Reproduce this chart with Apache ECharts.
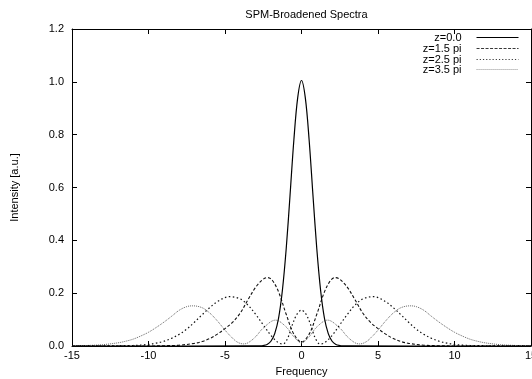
<!DOCTYPE html>
<html>
<head>
<meta charset="utf-8">
<script src="https://cdn.jsdelivr.net/npm/echarts@6/dist/echarts.min.js"></script>
<style>html,body{margin:0;padding:0;background:#fff;}#c{width:532px;height:379px;}</style>
</head>
<body>
<div id="c"></div>
<script>
var xTicks = [-15, -10, -5, 0, 5, 10, 15];
var yTicks = [0.0, 0.2, 0.4, 0.6, 0.8, 1.0, 1.2];
var seriesNames = ['z=0.0', 'z=1.5 pi', 'z=2.5 pi', 'z=3.5 pi'];

var x0 = [-15, -3, -2.75, -2.5, -2.25, -2, -1.75, -1.5, -1.25, -1, -0.75, -0.5, -0.25, 0, 0.25, 0.5, 0.75, 1, 1.25, 1.5, 1.75, 2, 2.25, 2.5, 2.75, 3, 15];
var y0 = [0, 0.0001, 0.0005, 0.002, 0.006, 0.018, 0.047, 0.105, 0.210, 0.368, 0.570, 0.779, 0.939, 1.005, 0.939, 0.779, 0.570, 0.368, 0.210, 0.105, 0.047, 0.018, 0.006, 0.002, 0.0005, 0.0001, 0];

var x15 = [-15, -10, -9, -8, -7, -6.5, -6, -5.5, -5, -4.5, -4, -3.5, -3, -2.5, -2.2, -1.9, -1.5, -1, -0.5, 0, 0.5, 1, 1.5, 1.9, 2.2, 2.5, 3, 3.5, 4, 4.5, 5, 5.5, 6, 6.5, 7, 8, 9, 10, 15];
var y15 = [0, 0, 0.001, 0.003, 0.010, 0.017, 0.028, 0.045, 0.066, 0.090, 0.125, 0.175, 0.222, 0.253, 0.259, 0.248, 0.205, 0.120, 0.045, 0.015, 0.045, 0.120, 0.205, 0.248, 0.259, 0.253, 0.222, 0.175, 0.125, 0.090, 0.066, 0.045, 0.028, 0.017, 0.010, 0.003, 0.001, 0, 0];

var x25 = [-15, -12, -11, -10, -9.5, -9, -8.5, -8, -7.5, -7, -6.5, -6, -5.5, -4.7, -4, -3.5, -3, -2.5, -2, -1.5, -1.2, -0.9, -0.6, -0.3, 0, 0.3, 0.6, 0.9, 1.2, 1.5, 2, 2.5, 3, 3.5, 4, 4.7, 5.5, 6, 6.5, 7, 7.5, 8, 8.5, 9, 9.5, 10, 11, 12, 15];
var y25 = [0, 0.001, 0.002, 0.006, 0.011, 0.018, 0.029, 0.044, 0.064, 0.090, 0.118, 0.145, 0.168, 0.187, 0.178, 0.155, 0.120, 0.080, 0.040, 0.012, 0.008, 0.030, 0.080, 0.120, 0.136, 0.120, 0.080, 0.030, 0.008, 0.012, 0.040, 0.080, 0.120, 0.155, 0.178, 0.187, 0.168, 0.145, 0.118, 0.090, 0.064, 0.044, 0.029, 0.018, 0.011, 0.006, 0.002, 0.001, 0];

var x35 = [-15, -14, -13, -12, -11.5, -11, -10.5, -10, -9.5, -9, -8.5, -8, -7.5, -7.1, -6.5, -6, -5.5, -5, -4.6, -4.2, -3.8, -3.5, -3, -2.5, -1.7, -1, -0.5, 0, 0.5, 1, 1.7, 2.5, 3, 3.5, 3.8, 4.2, 4.6, 5, 5.5, 6, 6.5, 7.1, 7.5, 8, 8.5, 9, 9.5, 10, 10.5, 11, 11.5, 12, 13, 14, 15];
var y35 = [0.001, 0.002, 0.005, 0.012, 0.018, 0.026, 0.038, 0.052, 0.070, 0.090, 0.112, 0.135, 0.149, 0.152, 0.145, 0.125, 0.095, 0.060, 0.035, 0.015, 0.008, 0.012, 0.035, 0.068, 0.098, 0.072, 0.035, 0.012, 0.035, 0.072, 0.098, 0.068, 0.035, 0.012, 0.008, 0.015, 0.035, 0.060, 0.095, 0.125, 0.145, 0.152, 0.149, 0.135, 0.112, 0.090, 0.070, 0.052, 0.038, 0.026, 0.018, 0.012, 0.005, 0.002, 0.001];

function zip(xs, ys) { return xs.map(function (x, i) { return [x, ys[i]]; }); }

var FONT = '"Liberation Sans", Arial, Helvetica, sans-serif';
var chart = echarts.init(document.getElementById('c'), null, {renderer: 'canvas'});

var styles = [
  {color: '#000', type: 'solid', width: 1.2},
  {color: '#111', type: [3, 2], width: 1.1},
  {color: '#111', type: [1.5, 2.5], width: 1.2},
  {color: '#666', type: [1, 1], width: 1}
];
var legendLine = [
  {color: '#000', type: 'solid', width: 1},
  {color: '#222', type: [3, 1.5], width: 0.9},
  {color: '#222', type: [1.2, 2], width: 0.9},
  {color: '#888', type: [1, 1], width: 0.9}
];
var datas = [zip(x0, y0), zip(x15, y15), zip(x25, y25), zip(x35, y35)];

var legendTops = [32, 43, 54, 64];
var legends = seriesNames.map(function (n, i) {
  return {
    data: [n], right: 13, top: legendTops[i], orient: 'vertical', align: 'right',
    itemWidth: 42, itemHeight: 10, itemGap: 0, padding: 0, selectedMode: false,
    itemStyle: {opacity: 0}, lineStyle: legendLine[i],
    textStyle: {fontFamily: FONT, fontSize: 11, color: '#000', padding: [0, 10, 0, 0]}
  };
});

chart.setOption({
  animation: false,
  backgroundColor: '#fff',
  title: {
    text: 'SPM-Broadened Spectra', left: 301.5, top: 4, textAlign: 'center',
    textStyle: {fontFamily: FONT, fontSize: 11, fontWeight: 'normal', color: '#000'}
  },
  legend: legends,
  grid: {left: 72, right: 1, top: 29, bottom: 33, outerBoundsMode: 'none', containLabel: false},
  xAxis: [{
    type: 'value', min: xTicks[0], max: xTicks[xTicks.length - 1], interval: 5,
    name: 'Frequency', nameLocation: 'middle', nameGap: 20,
    nameTextStyle: {fontFamily: FONT, fontSize: 11, color: '#000'},
    axisLine: {show: true, onZero: false, lineStyle: {color: '#000', width: 1}},
    axisTick: {show: true, inside: true, length: 5, lineStyle: {color: '#000'}},
    axisLabel: {fontFamily: FONT, fontSize: 11, color: '#000', margin: 4, showMaxLabel: true, showMinLabel: true},
    splitLine: {show: false}
  }, {
    type: 'value', position: 'top', min: xTicks[0], max: xTicks[xTicks.length - 1], interval: 5,
    axisLine: {show: true, onZero: false, lineStyle: {color: '#000', width: 1}},
    axisTick: {show: true, inside: true, length: 5, lineStyle: {color: '#000'}},
    axisLabel: {show: false}, splitLine: {show: false}
  }],
  yAxis: [{
    type: 'value', min: yTicks[0], max: yTicks[yTicks.length - 1], interval: 0.2,
    name: 'Intensity [a.u.]', nameLocation: 'middle', nameGap: 52,
    nameTextStyle: {fontFamily: FONT, fontSize: 11, color: '#000'},
    axisLine: {show: true, onZero: false, lineStyle: {color: '#000', width: 1}},
    axisTick: {show: true, inside: true, length: 5, lineStyle: {color: '#000'}},
    axisLabel: {fontFamily: FONT, fontSize: 11, color: '#000', margin: 8,
      formatter: function (v) { return v.toFixed(1); }},
    splitLine: {show: false}
  }, {
    type: 'value', position: 'right', min: yTicks[0], max: yTicks[yTicks.length - 1], interval: 0.2,
    axisLine: {show: true, onZero: false, lineStyle: {color: '#000', width: 1}},
    axisTick: {show: true, inside: true, length: 5, lineStyle: {color: '#000'}},
    axisLabel: {show: false}, splitLine: {show: false}
  }],
  series: seriesNames.map(function (n, i) {
    return {
      name: n, type: 'line', xAxisIndex: 0, yAxisIndex: 0,
      data: datas[i], smooth: 0.35, symbol: 'none', showSymbol: false,
      lineStyle: styles[i], itemStyle: {color: styles[i].color}, z: 10 - i
    };
  })
});
</script>
</body>
</html>
